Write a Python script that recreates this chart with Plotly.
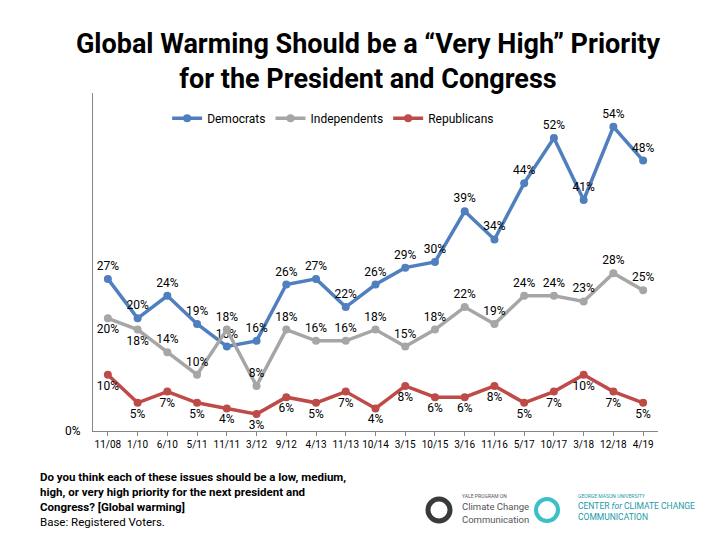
import plotly.graph_objects as go

categories = ["11/08", "1/10", "6/10", "5/11", "11/11", "3/12", "9/12", "4/13", "11/13", "10/14",
              "3/15", "10/15", "3/16", "11/16", "5/17", "10/17", "3/18", "12/18", "4/19"]
democrats = [27, 20, 24, 19, 15, 16, 26, 27, 22, 26, 29, 30, 39, 34, 44, 52, 41, 54, 48]
independents = [20, 18, 14, 10, 18, 8, 18, 16, 16, 18, 15, 18, 22, 19, 24, 24, 23, 28, 25]
republicans = [10, 5, 7, 5, 4, 3, 6, 5, 7, 4, 8, 6, 6, 8, 5, 7, 10, 7, 5]

FONT = "Roboto"
ind_pos = ["bottom center", "bottom center"] + ["top center"] * 17

fig = go.Figure()
series = [
    ("Democrats", democrats, "#4F7FBE", "top center"),
    ("Independents", independents, "#A6A6A6", ind_pos),
    ("Republicans", republicans, "#BE4B48", "bottom center"),
]
for name, vals, color, pos in series:
    fig.add_trace(go.Scatter(
        x=categories, y=vals, name=name, mode="lines+markers+text",
        line=dict(color=color, width=3.5),
        marker=dict(color=color, size=8),
        text=[f"{v}%" for v in vals], textposition=pos,
        textfont=dict(family=FONT, size=12, color="#000000"),
        cliponaxis=False,
    ))

fig.update_layout(
    width=720, height=540,
    margin=dict(l=85, r=70, t=85, b=117),
    paper_bgcolor="white", plot_bgcolor="white",
    font=dict(family=FONT, color="#000000"),
    title=dict(text="<b>Global Warming Should be a “Very High” Priority<br>for the President and Congress</b>",
               x=0.5, xanchor="center", y=0.916, yanchor="middle",
               font=dict(family=FONT, size=27, color="#000000")),
    legend=dict(orientation="h", x=0.425, xanchor="center", y=0.925, yanchor="middle",
                font=dict(family=FONT, size=12), bgcolor="rgba(0,0,0,0)",
                itemwidth=30, tracegroupgap=0),
    showlegend=True,
)
fig.update_xaxes(
    showline=True, linecolor="#868686", linewidth=1, showgrid=False, automargin=False,
    ticks="outside", ticklen=4, tickcolor="#868686", tickangle=0,
    tickfont=dict(family=FONT, size=10), range=[-0.5, 18.5],
)
fig.update_yaxes(
    showline=True, linecolor="#868686", linewidth=1, showgrid=False, zeroline=False, automargin=False,
    range=[0, 60], tickvals=[0], ticktext=["0%"], ticks="", ticklabelstandoff=9,
    tickfont=dict(family=FONT, size=12),
)

fig.add_annotation(
    xref="paper", yref="paper", x=(38 - 93) / 565, y=(431 - 468) / 338, xanchor="left", yanchor="top", align="left",
    showarrow=False,
    text="<b>Do you think each of these issues should be a low, medium,<br>high, or very high priority for the next president and<br>Congress? [Global warming]</b><br>Base: Registered Voters.",
    font=dict(family=FONT, size=11.5, color="#000000"),
)

# logos (approximate)
fig.add_shape(type="circle", xref="paper", yref="paper",
              x0=(428 - 93) / 565, x1=(450 - 93) / 565, y0=(431 - 521) / 338, y1=(431 - 499) / 338,
              line=dict(color="#3a3a3a", width=5))
fig.add_annotation(xref="paper", yref="paper", x=(460 - 93) / 565, y=(431 - 491) / 338,
                   xanchor="left", yanchor="top", align="left", showarrow=False,
                   text="<span style='font-size:5px'>YALE PROGRAM ON</span><br>Climate Change<br>Communication",
                   font=dict(family=FONT, size=9.5, color="#555555"))
fig.add_shape(type="circle", xref="paper", yref="paper",
              x0=(536 - 93) / 565, x1=(558 - 93) / 565, y0=(431 - 521) / 338, y1=(431 - 499) / 338,
              line=dict(color="#3BBFC8", width=4), fillcolor="rgba(0,0,0,0)")
fig.add_annotation(xref="paper", yref="paper", x=(576 - 93) / 565, y=(431 - 491) / 338,
                   xanchor="left", yanchor="top", align="left", showarrow=False,
                   text="<span style='font-size:5px'>GEORGE MASON UNIVERSITY</span><br>CENTER <i>for</i> CLIMATE CHANGE<br>COMMUNICATION",
                   font=dict(family=FONT, size=8.5, color="#1a9aa6"))

fig.write_html("out.html")
